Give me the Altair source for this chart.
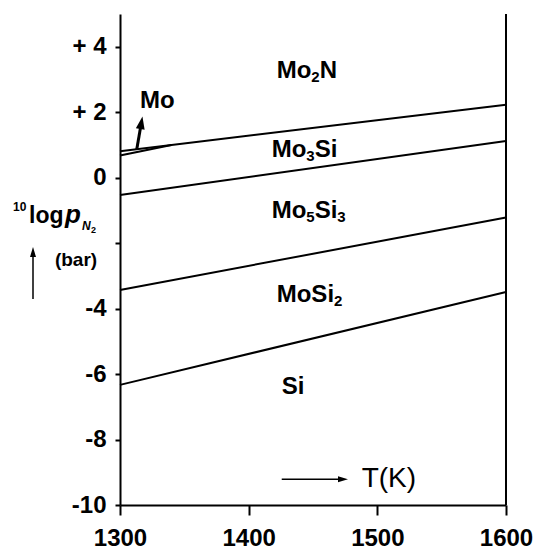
import altair as alt
import pandas as pd

FONT = "Liberation Sans"

# ---- phase-boundary lines (T in K, 10log pN2 in bar) ----
line_names = ["Mo2N/Mo3Si", "Mo/Mo3Si", "Mo3Si/Mo5Si3", "Mo5Si3/MoSi2", "MoSi2/Si"]
line_T = [[1300, 1600], [1300, 1340], [1300, 1600], [1300, 1600], [1300, 1600]]
line_logp = [[0.81, 2.23], [0.68, 1.00], [-0.53, 1.12], [-3.43, -1.22], [-6.33, -3.49]]

# ---- phase field labels: left edge T, baseline logp, pieces (text, is_subscript) ----
phase_names = ["Mo2N", "Mo3Si", "Mo5Si3", "MoSi2", "Si", "Mo"]
phase_T = [1421.8, 1417.9, 1417.9, 1421.8, 1425.7, 1315.5]
phase_logp = [3.04, 0.64, -1.24, -3.81, -6.62, 2.13]
phase_pieces = [
    [("Mo", 0), ("2", 1), ("N", 0)],
    [("Mo", 0), ("3", 1), ("Si", 0)],
    [("Mo", 0), ("5", 1), ("Si", 0), ("3", 1)],
    [("MoSi", 0), ("2", 1)],
    [("Si", 0)],
    [("Mo", 0)],
]

# ---- axis ticks ----
x_ticks = [1300, 1400, 1500, 1600]
y_ticks = [-10, -8, -6, -4, -2, 0, 2, 4]

# ---- annotation arrows (data coordinates) ----
mo_arrow_T = [1313.0, 1316.6]
mo_arrow_logp = [0.86, 1.68]
tk_arrow_T = [1425.7, 1473.3]
tk_arrow_logp = [-9.21, -9.21]

# layout constants
W, H = 386, 491
K_PER_PX = (1600 - 1300) / W
MAIN_SIZE, SUB_SIZE = 24, 15
ARIAL_BOLD_W = {"M": 0.833, "o": 0.611, "N": 0.722, "S": 0.667, "i": 0.278,
                "2": 0.556, "3": 0.556, "5": 0.556}

rows = []
for n, ts, ps in zip(line_names, line_T, line_logp):
    for t, p in zip(ts, ps):
        rows.append({"line": n, "T": t, "logp": p})
lines_df = pd.DataFrame(rows)

main_rows, sub_rows = [], []
for name, t0, p0, pieces in zip(phase_names, phase_T, phase_logp, phase_pieces):
    off = 0.0
    for s, sub in pieces:
        size = SUB_SIZE if sub else MAIN_SIZE
        row = {"label": name, "piece": s, "T": t0 + off * K_PER_PX, "logp": p0}
        (sub_rows if sub else main_rows).append(row)
        off += sum(ARIAL_BOLD_W[c] for c in s) * size

xscale = alt.Scale(domain=[1300, 1600], nice=False, zero=False)
yscale = alt.Scale(domain=[-10, 5], nice=False, zero=False)

x_axis = alt.Axis(values=x_ticks, title=None, grid=False, tickSize=10, tickWidth=2,
                  domainWidth=2, domainColor="black", tickColor="black", format="d",
                  labelFont=FONT, labelFontWeight="bold", labelFontSize=24,
                  labelColor="black", labelPadding=11, labelFlush=False)
y_axis = alt.Axis(values=y_ticks, title=None, grid=False, tickSize=5, tickWidth=2,
                  domainWidth=2, domainColor="black", tickColor="black",
                  labelFont=FONT, labelFontWeight="bold", labelFontSize=24,
                  labelColor="black", labelPadding=9,
                  labelExpr="datum.value > 0 ? '+ ' + datum.value : (datum.value == -2 ? '' : (datum.value < 0 ? '-' + abs(datum.value) : '0'))")

lines = alt.Chart(lines_df).mark_line(color="black", strokeWidth=2).encode(
    x=alt.X("T:Q", scale=xscale, axis=x_axis),
    y=alt.Y("logp:Q", scale=yscale, axis=y_axis),
    detail="line:N",
)

right_border = alt.Chart(pd.DataFrame({"T": [1600], "lo": [-10], "hi": [5]})).mark_rule(
    color="black", strokeWidth=2).encode(x="T:Q", y="lo:Q", y2="hi:Q")

labels_main = alt.Chart(pd.DataFrame(main_rows)).mark_text(
    font=FONT, fontWeight="bold", fontSize=MAIN_SIZE, baseline="alphabetic",
    align="left", color="black").encode(x="T:Q", y="logp:Q", text="piece:N")
labels_sub = alt.Chart(pd.DataFrame(sub_rows)).mark_text(
    font=FONT, fontWeight="bold", fontSize=SUB_SIZE, baseline="alphabetic",
    align="left", color="black", dy=4).encode(x="T:Q", y="logp:Q", text="piece:N")

# Mo arrow
mo_shaft = alt.Chart(pd.DataFrame({"T": mo_arrow_T, "logp": mo_arrow_logp})).mark_line(
    color="black", strokeWidth=3).encode(x="T:Q", y="logp:Q")
mo_head = alt.Chart(pd.DataFrame({"T": [mo_arrow_T[1]], "logp": [mo_arrow_logp[1]]})).mark_point(
    shape="M0,-1L0.7,1L-0.7,1Z", filled=True, color="black", opacity=1, size=160,
    angle=10).encode(x="T:Q", y="logp:Q")

# T(K) arrow + text
tk_shaft = alt.Chart(pd.DataFrame({"T": tk_arrow_T, "logp": tk_arrow_logp})).mark_line(
    color="black", strokeWidth=1.5).encode(x="T:Q", y="logp:Q")
tk_head = alt.Chart(pd.DataFrame({"T": [tk_arrow_T[1]], "logp": [tk_arrow_logp[1]]})).mark_point(
    shape="M1,0L-1,0.6L-1,-0.6Z", filled=True, color="black", opacity=1, size=100
).encode(x="T:Q", y="logp:Q")
tk_text = alt.Chart(pd.DataFrame({"t": ["T(K)"], "T": [1509], "logp": [-9.44]})).mark_text(
    font=FONT, fontSize=28, baseline="alphabetic", align="center", color="black"
).encode(x="T:Q", y="logp:Q", text="t:N")

# y-axis title pieces (pixel positions relative to plot origin)
one = pd.DataFrame({"a": [0]})
def txt(s, x, y, size, weight="bold", style="normal", align="left"):
    return alt.Chart(one).mark_text(text=s, font=FONT, fontSize=size, fontWeight=weight,
                                    fontStyle=style, align=align, baseline="alphabetic",
                                    color="black").encode(x=alt.value(x), y=alt.value(y))

ytitle = [
    txt("10", -107, 197, 12),
    txt("log", -91, 209, 23),
    txt("p", -55, 209, 26, style="italic"),
    txt("N", -38, 216, 12, style="italic"),
    txt("2", -29, 219, 9),
    txt("(bar)", -44, 252, 19, align="center"),
]
yarrow_shaft = alt.Chart(one).mark_rule(color="black", strokeWidth=1.5).encode(
    x=alt.value(-87), y=alt.value(285), y2=alt.value(240))
yarrow_head = alt.Chart(one).mark_point(shape="M0,-1L0.6,1L-0.6,1Z", filled=True,
                                        color="black", opacity=1, size=100).encode(
    x=alt.value(-87), y=alt.value(238))

chart = alt.layer(lines, right_border, labels_main, labels_sub, mo_shaft, mo_head,
                  tk_shaft, tk_head, tk_text, *ytitle, yarrow_shaft, yarrow_head).properties(
    width=W, height=H,
    padding={"left": 120, "top": 14, "right": 28, "bottom": 46},
    autosize=alt.AutoSizeParams(type="none"),
    background="white",
).configure_view(stroke=None)

chart.save("out.html", embed_options={"renderer": "svg", "actions": False})
